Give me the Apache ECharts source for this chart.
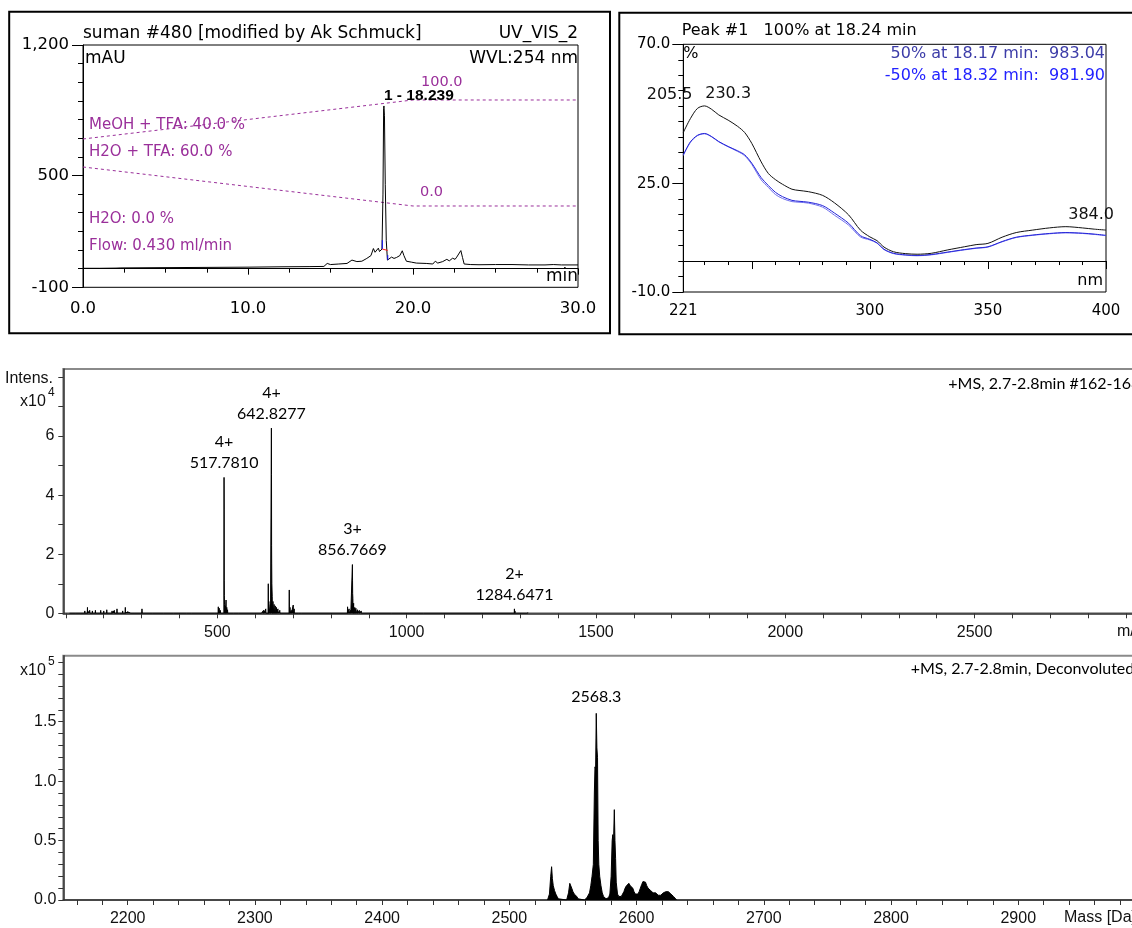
<!DOCTYPE html>
<html><head><meta charset="utf-8">
<script src="https://cdn.jsdelivr.net/npm/echarts@6/dist/echarts.min.js"></script>
<style>html,body{margin:0;padding:0;background:#fff}#c{width:1132px;height:928px}</style>
</head><body><div id="c"></div>
<script>
// ---------- HPLC chromatogram (time [min], signal [mAU]) ----------
const chromTrace = [[0,2],[1,2],[2,3],[2.1,8],[2.3,4],[4,5],[6,6],[8,7],[10,8],[12,10],[13.7,11],[14.6,12],[14.8,28],[15.0,22],[15.5,25],[16.0,28],[16.3,46],[16.6,38],[16.9,40],[17.2,55],[17.45,70],[17.6,108],[17.7,88],[17.75,95],[17.9,110],[17.97,92],[18.05,100],[18.12,105],[18.18,400],[18.22,860],[18.239,873],[18.27,820],[18.32,450],[18.38,150],[18.45,46],[18.55,50],[18.7,62],[18.85,55],[19.0,60],[19.2,70],[19.35,96],[19.45,70],[19.6,40],[19.9,35],[20.2,30],[20.8,28],[21.2,25],[21.35,40],[21.5,30],[21.8,38],[22.05,50],[22.2,42],[22.4,56],[22.55,50],[22.65,62],[22.75,70],[22.9,97],[23.0,60],[23.1,25],[23.5,22],[24,21],[25,22],[26,22],[27,20],[28,20],[28.5,22],[29,20],[30,20]];
const chromPeak = [[18.239, 873, '1 - 18.239']];
const peakStartMark = [[18.14,105],[18.14,153]];
const peakBaseMark = [[18.14,105],[18.47,98]];
const peakEndMark = [[18.47,73],[18.47,46]];
const chromXLabels = [0, 10, 20, 30];
const chromYLabels = [-100, 500, 1200];

// gradient program (%)
const gradTime = [0, 20, 30];
const meohPct = [40, 100, 100];
const h2oTfaPct = [60, 0, 0];

// ---------- UV spectrum (nm, %) ----------
const uvNm =     [221,224,227,230,233,236,240,244,247,250,254,257,260,263,267,270,274,280,285,291,296,300,303,306,310,315,320,326,333,340,345,350,356,362,369,376,383,390,395,400];
const uvApex =   [41.5,46,49.3,50.1,49,47.2,45.5,43.5,41.5,38,32,28.3,26.3,24.8,23.2,22.8,22.4,21.2,18.8,14.9,10,7.8,6.6,4.5,3,2.4,2.2,2.5,3.6,4.6,5.3,5.7,7.7,9.2,10.0,10.7,11.1,10.7,10.3,10.0];
const uvUp50 =   [34.3,38.5,40.6,41.2,40.2,38.6,37,35.6,34.3,31.6,26.9,24.4,22.2,20.8,19.6,19.3,19.0,17.9,15.5,12.2,8.2,7.0,5.9,3.8,2.5,2.0,1.8,2.1,2.9,3.7,4.2,4.6,6.3,7.7,8.4,8.9,9.2,9.0,8.7,8.3];
const uvDown50 = [34.1,38.3,40.5,41.1,40.1,38.5,36.9,35.4,34.0,31.2,26.2,23.8,21.5,20.2,19.2,19.0,18.7,17.4,14.8,11.6,7.8,6.8,5.8,3.7,2.4,1.9,1.7,2.0,2.8,3.6,4.1,4.5,6.2,7.6,8.3,8.8,9.1,8.9,8.6,8.2];
const uvPeakLabels = [[230.3, 50.1], [384.0, 11.1]];
const uvXLabels = [221, 300, 350, 400];
const uvYLabels = [-10, 25, 70];

// ---------- ESI-MS (m/z, intensity x10^4) ----------
const msPeaks = [[110,0.05],[125,0.04],[140,0.06],[150,0.08],[157,0.2],[163,0.1],[170,0.08],[178,0.1],[185,0.06],[192,0.1],[200,0.08],[208,0.12],[215,0.06],[222,0.08],[228,0.1],[235,0.15],[242,0.06],[250,0.08],[257,0.2],[263,0.05],[272,0.06],[283,0.05],[301,0.15],[330,0.04],[358,0.05],[385,0.03],[419,0.05],[432,0.05],[436,0.04],
 [494,0.05],[502.6,0.22],[505,0.17],[508,0.1],[517.78,4.6],[518.03,3.5],[518.28,1.1],[518.53,0.6],[519,0.3],[521,0.25],[523,0.45],[525,0.2],[527,0.12],[543,0.06],[556,0.06],
 [617,0.06],[622,0.1],[628,0.15],[634.6,1.0],[636,0.4],[640,0.3],[642.83,6.27],[643.08,4.7],[643.33,2.3],[643.58,1.7],[644,1.0],[645,0.56],[647,0.4],[650,0.3],[653,0.25],[656,0.2],[660,0.15],[665,0.1],[670,0.06],[690,0.79],[692,0.2],[695,0.1],[700.5,0.28],[703,0.15],[708,0.05],[715,0.05],[722,0.05],
 [844,0.22],[848,0.15],[852,0.1],[856.77,1.65],[857.1,1.1],[857.43,0.67],[858,0.5],[860,0.34],[863,0.2],[866,0.17],[870,0.12],[875,0.1],[880,0.08],[885,0.05],
 [960,0.02],[1045,0.03],[1284.65,0.15],[1286,0.08],[1300,0.03],[1320,0.03]];
const msLabels = [[517.7810, 4.6, '4+'], [642.8277, 6.27, '4+'], [856.7669, 1.65, '3+'], [1284.6471, 0.15, '2+']];
const msXLabels = [500, 1000, 1500, 2000, 2500];
const msYLabels = [0, 2, 4, 6];

// ---------- Deconvoluted spectrum (mass Da, intensity x10^5) ----------
const deconvProfile = [[2530,0],[2531.5,0.05],[2532.5,0.2],[2533.2,0.28],[2533.8,0.18],[2534.5,0.12],[2535.5,0.08],[2536.5,0.05],[2537.5,0.03],[2538.5,0.01],[2540,0],
 [2545,0],[2546.5,0.06],[2547.5,0.14],[2548.2,0.155],[2549,0.1],[2550,0.07],[2551,0.05],[2552,0.04],[2553,0.03],[2554,0.01],[2555,0],
 [2559,0],[2560,0.01],[2561,0.02],[2562,0.03],[2563,0.06],[2564,0.12],[2565,0.2],[2566,0.3],[2566.8,0.9],[2567.3,1.12],[2567.8,1.1],[2568.3,1.57],[2568.8,1.28],[2569.3,1.2],[2569.8,0.5],[2570.3,0.3],[2571,0.2],[2572,0.12],[2573,0.06],[2574,0.03],[2575,0.02],[2576,0.01],
 [2578,0.02],[2579,0.05],[2580,0.2],[2580.8,0.5],[2581.3,0.55],[2581.8,0.45],[2582.5,0.76],[2583,0.5],[2583.5,0.35],[2584,0.15],[2585,0.05],[2586,0.03],[2587,0.02],[2588,0.03],[2589,0.05],[2590,0.07],[2591,0.1],[2592,0.12],[2593,0.13],[2594,0.14],[2595,0.12],[2596,0.13],[2597,0.1],[2598,0.07],[2599,0.05],[2600,0.04],[2601,0.05],[2602,0.07],[2603,0.1],[2604,0.13],[2605,0.155],[2606,0.14],[2607,0.15],[2608,0.12],[2609,0.1],[2610,0.11],[2611,0.08],[2612,0.07],[2613,0.06],[2614,0.07],[2615,0.06],[2616,0.05],[2617,0.04],[2618,0.05],[2619,0.04],[2620,0.05],[2621,0.06],[2622,0.06],[2623,0.07],[2624,0.06],[2625,0.07],[2626,0.06],[2627,0.05],[2628,0.04],[2629,0.03],[2630,0.02],[2631.5,0]];
const deconvLabels = [[2568.3, 1.57]];
const deconvXLabels = [2200, 2300, 2400, 2500, 2600, 2700, 2800, 2900];
const deconvYLabels = [0, 0.5, 1.0, 1.5];

// ---------- helpers ----------
function range(a, b, step, div) { const r = []; for (let i = a; i <= b; i += step) r.push(div ? i / div : i); return r; }
function toProfile(peaks, hw) {
  const s = peaks.slice().sort((a, b) => a[0] - b[0]);
  const out = [];
  for (let i = 0; i < s.length; i++) {
    const m = s[i][0], h = s[i][1];
    if (i === 0 || s[i - 1][0] + hw < m - hw) out.push([m - hw, 0]);
    out.push([m, h]);
    if (i === s.length - 1 || s[i + 1][0] - hw > m + hw) out.push([m + hw, 0]);
  }
  return out;
}
const DV = 'DejaVu Sans', LS = 'Liberation Sans', LATO = 'Lato';
const PURPLE = '#9a2f9a';
const noSplit = { show: false };
const plain = v => String(v);

function txt(x, y, text, size, opts) {
  opts = opts || {};
  return { type: 'text', z: 100, x: x, y: y, style: {
    text: text, fill: opts.fill || '#000', fontSize: size, fontFamily: opts.family || DV,
    fontWeight: opts.weight || 'normal', align: opts.align || 'left', verticalAlign: 'middle' } };
}
function labelSeries(xi, yi, data, label) {
  return { type: 'scatter', xAxisIndex: xi, yAxisIndex: yi, symbolSize: 0, itemStyle: { color: '#000', opacity: 1 },
    silent: true, data: data, label: Object.assign({ show: true, formatter: '{b}', opacity: 1 }, label), z: 20 };
}

const chart = echarts.init(document.getElementById('c'), null, { renderer: 'canvas' });

const option = {
  animation: false,
  backgroundColor: '#fff',
  grid: [
    { left: 83, top: 45, width: 495, height: 242.3, show: true, borderColor: '#000', borderWidth: 1, outerBoundsMode: 'none' },
    { left: 683.3, top: 44.3, width: 422.7, height: 247.7, show: true, borderColor: '#000', borderWidth: 1, outerBoundsMode: 'none' },
    { left: 63.3, top: 369, width: 1100.6, height: 244.3, show: true, borderColor: '#8a8a8a', borderWidth: 2, outerBoundsMode: 'none' },
    { left: 63.3, top: 655.7, width: 1082.2, height: 244.3, show: true, borderColor: '#8a8a8a', borderWidth: 2, outerBoundsMode: 'none' }
  ],
  xAxis: [
    { type: 'value', gridIndex: 0, position: 'bottom', min: 0, max: 30, interval: 10,
      axisLine: { show: true, lineStyle: { color: '#000', width: 1 } },
      axisTick: { show: true, length: 6, lineStyle: { color: '#000' } },
      minorTick: { show: true, splitNumber: 4, length: 4, lineStyle: { color: '#000' } },
      axisLabel: { customValues: chromXLabels, formatter: v => v.toFixed(1), fontFamily: DV, fontSize: 16.5, color: '#000', margin: 13 },
      splitLine: noSplit, minorSplitLine: noSplit },
    { type: 'value', gridIndex: 1, position: 'bottom', min: 221, max: 400,
      axisLine: { show: true, lineStyle: { color: '#000', width: 1 } },
      axisTick: { show: true, customValues: [250, 300, 350, 400], length: 8, lineStyle: { color: '#000' } },
      axisLabel: { customValues: uvXLabels, formatter: plain, fontFamily: DV, fontSize: 15, color: '#000', margin: 12 },
      splitLine: noSplit },
    { type: 'value', gridIndex: 1, position: 'bottom', min: 221, max: 400,
      axisLine: { show: false },
      axisTick: { show: true, customValues: range(230, 390, 10).filter(v => v % 50 !== 0), length: 4, lineStyle: { color: '#000' } },
      axisLabel: { show: false }, splitLine: noSplit },
    { type: 'value', gridIndex: 2, position: 'bottom', min: 93.2, max: 3000,
      axisLine: { show: true, lineStyle: { color: '#333', width: 1.5 } },
      axisTick: { show: true, customValues: range(100, 3000, 100), length: 5, lineStyle: { color: '#333' } },
      axisLabel: { customValues: msXLabels, formatter: plain, fontFamily: LS, fontSize: 16, color: '#111', margin: 11 },
      splitLine: noSplit },
    { type: 'value', gridIndex: 3, position: 'bottom', min: 2149.4, max: 3000,
      axisLine: { show: true, lineStyle: { color: '#333', width: 1.5 } },
      axisTick: { show: true, customValues: range(2160, 3000, 20), length: 5, lineStyle: { color: '#333' } },
      axisLabel: { customValues: deconvXLabels, formatter: plain, fontFamily: LS, fontSize: 16, color: '#111', margin: 11 },
      splitLine: noSplit }
  ],
  yAxis: [
    { type: 'value', gridIndex: 0, position: 'left', min: -100, max: 1200,
      axisLine: { show: true, lineStyle: { color: '#000', width: 1 } },
      axisTick: { show: true, customValues: chromYLabels, length: 11, lineStyle: { color: '#000' } },
      axisLabel: { customValues: chromYLabels, formatter: v => v === 1200 ? '1,200' : String(v), fontFamily: DV, fontSize: 16.5, color: '#000', margin: 14 },
      splitLine: noSplit },
    { type: 'value', gridIndex: 0, position: 'left', min: -100, max: 1200, interval: 100,
      axisLine: { show: false }, axisTick: { show: true, length: 5, lineStyle: { color: '#000' } },
      axisLabel: { show: false }, splitLine: noSplit },
    { type: 'value', gridIndex: 0, min: -188.2, max: 184.6, show: false, splitLine: noSplit },
    { type: 'value', gridIndex: 0, min: -125.1, max: 247.7, show: false, splitLine: noSplit },
    { type: 'value', gridIndex: 1, position: 'left', min: -10, max: 70,
      axisLine: { show: true, lineStyle: { color: '#000', width: 1 } },
      axisTick: { show: true, customValues: uvYLabels, length: 11, lineStyle: { color: '#000' } },
      axisLabel: { customValues: uvYLabels, formatter: v => v.toFixed(1), fontFamily: DV, fontSize: 15, color: '#000', margin: 13 },
      splitLine: noSplit },
    { type: 'value', gridIndex: 1, position: 'left', min: -10, max: 70, interval: 5,
      axisLine: { show: false }, axisTick: { show: true, length: 5, lineStyle: { color: '#000' } },
      axisLabel: { show: false }, splitLine: noSplit },
    { type: 'value', gridIndex: 2, position: 'left', min: 0, max: 8.27,
      axisLine: { show: true, lineStyle: { color: '#333', width: 1.5 } },
      axisTick: { show: true, customValues: range(0, 8, 1), length: 5, lineStyle: { color: '#333' } },
      axisLabel: { customValues: msYLabels, formatter: plain, fontFamily: LS, fontSize: 16, color: '#111', margin: 9 },
      splitLine: noSplit },
    { type: 'value', gridIndex: 3, position: 'left', min: 0, max: 2.055,
      axisLine: { show: true, lineStyle: { color: '#333', width: 1.5 } },
      axisTick: { show: true, customValues: range(0, 20, 1, 10), length: 5, lineStyle: { color: '#333' } },
      axisLabel: { customValues: deconvYLabels, formatter: v => v.toFixed(1), fontFamily: LS, fontSize: 16, color: '#111', margin: 7 },
      splitLine: noSplit }
  ],
  series: [
    { type: 'line', xAxisIndex: 0, yAxisIndex: 0, data: chromTrace, showSymbol: false, lineStyle: { color: '#000', width: 1 }, z: 5 },
    { type: 'line', xAxisIndex: 0, yAxisIndex: 2, data: gradTime.map((t, i) => [t, meohPct[i]]), showSymbol: false,
      lineStyle: { color: PURPLE, width: 1, type: [3, 3] } },
    { type: 'line', xAxisIndex: 0, yAxisIndex: 3, data: gradTime.map((t, i) => [t, h2oTfaPct[i]]), showSymbol: false,
      lineStyle: { color: PURPLE, width: 1, type: [3, 3] } },
    { type: 'line', xAxisIndex: 0, yAxisIndex: 0, data: peakStartMark, showSymbol: false, lineStyle: { color: '#1010ff', width: 1 }, z: 6 },
    { type: 'line', xAxisIndex: 0, yAxisIndex: 0, data: peakBaseMark, showSymbol: false, lineStyle: { color: '#ff2020', width: 1 }, z: 6 },
    { type: 'line', xAxisIndex: 0, yAxisIndex: 0, data: peakEndMark, showSymbol: false, lineStyle: { color: '#1010ff', width: 1 }, z: 6 },
    labelSeries(0, 0, chromPeak.map(d => ({ value: [d[0], d[1]], name: d[2] })),
      { position: 'top', align: 'left', distance: 2, fontFamily: LS, fontWeight: 'bold', fontSize: 15.5, color: '#000' }),

    { type: 'line', xAxisIndex: 1, yAxisIndex: 4, data: uvNm.map((n, i) => [n, uvDown50[i]]), smooth: 0.3, showSymbol: false, lineStyle: { color: '#7070f0', width: 1 } },
    { type: 'line', xAxisIndex: 1, yAxisIndex: 4, data: uvNm.map((n, i) => [n, uvUp50[i]]), smooth: 0.3, showSymbol: false, lineStyle: { color: '#2424d8', width: 1 } },
    { type: 'line', xAxisIndex: 1, yAxisIndex: 4, data: uvNm.map((n, i) => [n, uvApex[i]]), smooth: 0.3, showSymbol: false, lineStyle: { color: '#111', width: 1 } },
    labelSeries(1, 4, uvPeakLabels.map(d => ({ value: d, name: d[0].toFixed(1) })),
      { position: 'top', align: 'left', distance: 4, fontFamily: DV, fontSize: 16, color: '#111' }),

    { type: 'line', xAxisIndex: 3, yAxisIndex: 6, data: toProfile(msPeaks, 0.5), showSymbol: false,
      lineStyle: { color: '#000', width: 1 }, areaStyle: { color: '#000', opacity: 1 } },
    labelSeries(3, 6, msLabels.map(d => ({ value: [d[0], d[1]], name: d[2] + '\n' + d[0].toFixed(4) })),
      { position: 'top', distance: 4, fontFamily: LATO, fontSize: 16, lineHeight: 21, color: '#000' }),

    { type: 'line', xAxisIndex: 4, yAxisIndex: 7, data: deconvProfile, showSymbol: false,
      lineStyle: { color: '#000', width: 1 }, areaStyle: { color: '#000', opacity: 1 } },
    labelSeries(4, 7, deconvLabels.map(d => ({ value: d, name: d[0].toFixed(1) })),
      { position: 'top', distance: 9, fontFamily: LATO, fontSize: 16, color: '#000' })
  ],
  graphic: [
    { type: 'rect', z: 100, shape: { x: 9.2, y: 11.8, width: 600.8, height: 321.5 }, style: { fill: 'none', stroke: '#000', lineWidth: 2 } },
    { type: 'rect', z: 100, shape: { x: 619.3, y: 12.8, width: 530, height: 321.5 }, style: { fill: 'none', stroke: '#000', lineWidth: 2 } },
    // chromatogram panel texts
    txt(83, 34, 'suman #480 [modified by Ak Schmuck]', 17),
    txt(578, 34, 'UV_VIS_2', 17, { align: 'right' }),
    txt(85, 59, 'mAU', 17),
    txt(578, 59, 'WVL:254 nm', 17, { align: 'right' }),
    txt(421, 82, '100.0', 14.5, { fill: PURPLE }),
    txt(89, 125, 'MeOH + TFA: 40.0 %', 15, { fill: PURPLE }),
    txt(89, 152, 'H2O + TFA: 60.0 %', 15, { fill: PURPLE }),
    txt(420, 192, '0.0', 14.5, { fill: PURPLE }),
    txt(89, 219, 'H2O: 0.0 %', 15, { fill: PURPLE }),
    txt(89, 246, 'Flow: 0.430 ml/min', 15, { fill: PURPLE }),
    txt(578, 277, 'min', 17, { align: 'right' }),
    // UV panel texts
    txt(681.7, 31, 'Peak #1   100% at 18.24 min', 16),
    txt(683.3, 54, '%', 16),
    txt(1105, 54, '50% at 18.17 min:  983.04', 16, { align: 'right', fill: '#3c3ca8' }),
    txt(1105, 76, '-50% at 18.32 min:  981.90', 16, { align: 'right', fill: '#2222ff' }),
    txt(646.7, 95, '205.5', 16, { fill: '#111' }),
    txt(1103, 281, 'nm', 16, { align: 'right' }),
    // MS panel texts
    txt(5, 379, 'Intens.', 16, { family: LS, fill: '#111' }),
    txt(20, 402, 'x10', 16, { family: LS, fill: '#111' }),
    txt(48, 393, '4', 12, { family: LS, fill: '#111' }),
    txt(948.3, 383.5, '+MS, 2.7-2.8min #162-168', 16, { family: LATO, fill: '#000' }),
    txt(1117, 632, 'm/z', 16, { family: LS, fill: '#111' }),
    // deconvoluted panel texts
    txt(20, 671, 'x10', 16, { family: LS, fill: '#111' }),
    txt(48, 662, '5', 12, { family: LS, fill: '#111' }),
    txt(910.7, 669, '+MS, 2.7-2.8min, Deconvoluted', 16, { family: LATO, fill: '#000' }),
    txt(1064, 917.7, 'Mass [Da]', 16, { family: LS, fill: '#111' })
  ]
};
chart.setOption(option);
</script>
</body></html>
